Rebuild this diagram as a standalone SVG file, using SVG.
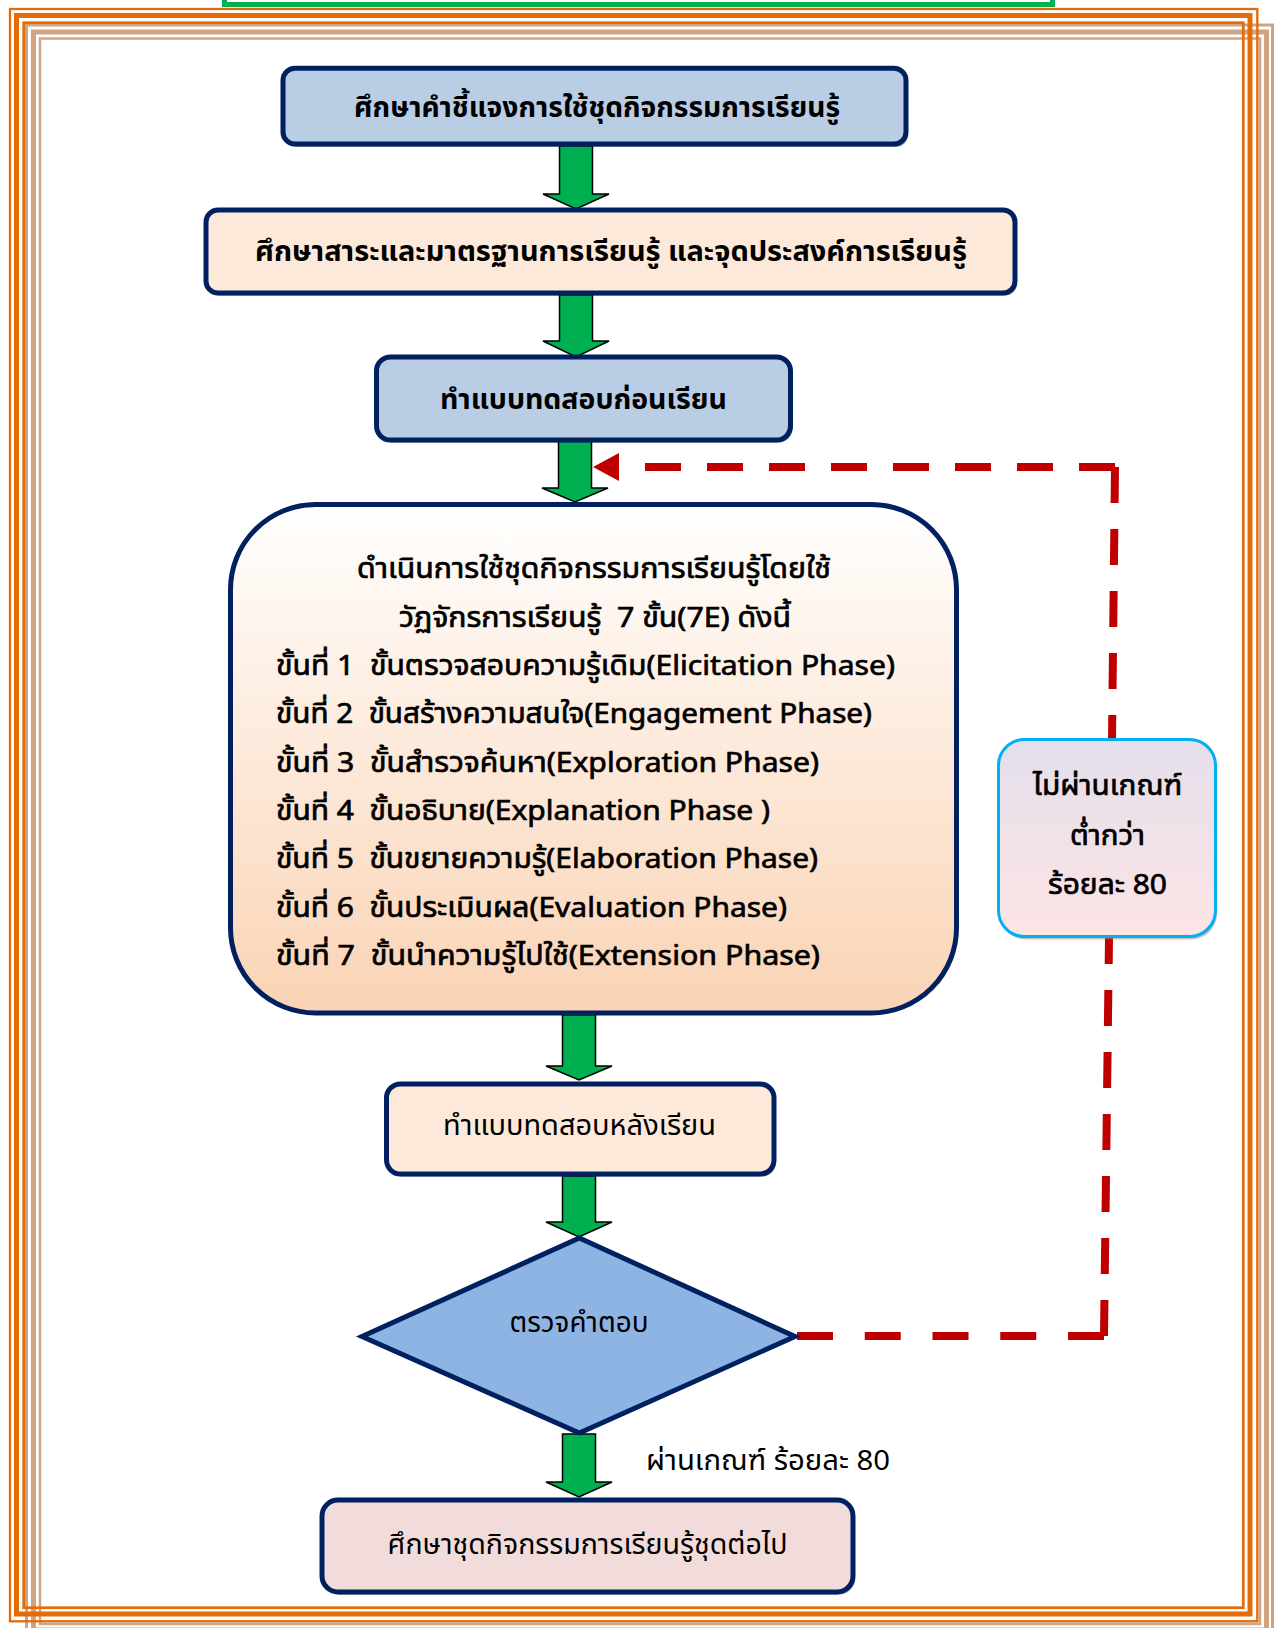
<svg xmlns="http://www.w3.org/2000/svg" width="1280" height="1628" viewBox="0 0 1280 1628">
<defs>
<style>
.t{font-family:"Noto Sans Thai","Noto Sans Thai UI","Leelawadee UI",Tahoma,"DejaVu Sans",sans-serif;font-size:28px;fill:#000;white-space:pre}
.b{font-weight:bold}
.m{stroke:#000;stroke-width:0.7}
.box{stroke:#002060;stroke-width:5}
.shadow{fill:#1a2a50;opacity:0.55}
.garrow{fill:#00B050;stroke:#000;stroke-width:1.5;stroke-linejoin:miter}
.or{fill:none;stroke:#E36C09}
.tan{fill:none;stroke:#D2A382}
.red{fill:none;stroke:#C00000;stroke-width:8;stroke-dasharray:36 26}
</style>
<linearGradient id="g4" x1="0" y1="0" x2="0" y2="1">
<stop offset="0" stop-color="#FFFFFF"/>
<stop offset="1" stop-color="#FAD3B4"/>
</linearGradient>
<linearGradient id="gs" x1="0" y1="0" x2="0" y2="1">
<stop offset="0" stop-color="#E4DFEC"/>
<stop offset="1" stop-color="#FDE4E4"/>
</linearGradient>
<marker id="ra" viewBox="0 0 26 28" refX="0" refY="14" markerWidth="26" markerHeight="28" markerUnits="userSpaceOnUse" orient="auto">
<path d="M0,0 L26,14 L0,28 z" fill="#C00000"/>
</marker>
</defs>
<rect width="1280" height="1628" fill="#FFFFFF"/>
<g id="frame">
<rect x="224.5" y="-20" width="828" height="24.5" fill="#FFFFFF" stroke="#00B050" stroke-width="5"/>
<rect class="tan" x="26.5" y="25" width="1246" height="1612" stroke-width="3"/>
<rect class="tan" x="33.5" y="32" width="1233" height="1598" stroke-width="5"/>
<rect class="tan" x="40" y="38.5" width="1220" height="1585.5" stroke-width="2.5"/>
<rect class="or" x="10" y="9" width="1247.3" height="1612.3" stroke-width="2.3"/>
<rect class="or" x="16.5" y="15.5" width="1233.5" height="1598.5" stroke-width="5"/>
<rect class="or" x="23.7" y="22.7" width="1219.6" height="1585" stroke-width="2.7"/>
</g>
<g id="connectors">
<path class="garrow" d="M559.5,146 H592.5 V194 H609 L576,209 L543,194 H559.5 Z"/>
<path class="garrow" d="M559.5,295 H592.5 V341 H609 L576,357 L543,341 H559.5 Z"/>
<path class="garrow" d="M558.5,441 H591.5 V488 H608 L575,502 L542,488 H558.5 Z"/>
<path class="garrow" d="M562.5,1015 H595.5 V1066 H612 L579,1080 L546,1066 H562.5 Z"/>
<path class="garrow" d="M562.5,1176 H595.5 V1222 H612 L579,1237 L546,1222 H562.5 Z"/>
<path class="garrow" d="M562.5,1434 H595.5 V1482 H612 L579,1497 L546,1482 H562.5 Z"/>
<path class="red" d="M1104,1336 L797,1336" style="stroke-dasharray:36 31.75"/>
<path class="red" d="M1104,1336 L1109,938"/>
<path class="red" d="M1115,467 L1112,741"/>
<path class="red" d="M1115,467 L619,467" marker-end="url(#ra)"/>
<text class="t" x="646" y="1470" textLength="244" lengthAdjust="spacingAndGlyphs">ผ่านเกณฑ์ ร้อยละ 80</text>
</g>
<g id="n1">
<rect class="shadow" x="285" y="71" width="623" height="75.7" rx="12"/>
<rect class="box" x="283" y="68.3" width="623" height="75.7" rx="12" fill="#B9CDE5"/>
<text class="t b" x="597" y="117" text-anchor="middle" textLength="486" lengthAdjust="spacingAndGlyphs">ศึกษาคำชี้แจงการใช้ชุดกิจกรรมการเรียนรู้</text>
</g>
<g id="n2">
<rect class="shadow" x="208" y="212.5" width="809" height="83" rx="12"/>
<rect class="box" x="206" y="210" width="809" height="83" rx="12" fill="#FDE9D9"/>
<text class="t b" x="611" y="261" text-anchor="middle" textLength="712" lengthAdjust="spacingAndGlyphs">ศึกษาสาระและมาตรฐานการเรียนรู้ และจุดประสงค์การเรียนรู้</text>
</g>
<g id="n3">
<rect class="shadow" x="378.5" y="359.5" width="414" height="83" rx="14"/>
<rect class="box" x="376.5" y="357" width="414" height="83" rx="14" fill="#B9CDE5"/>
<text class="t b" x="583.5" y="409" text-anchor="middle" textLength="287" lengthAdjust="spacingAndGlyphs">ทำแบบทดสอบก่อนเรียน</text>
</g>
<g id="n4">
<rect class="box" x="230.5" y="504.5" width="726" height="508.5" rx="85" fill="url(#g4)"/>
<text class="t m" x="594" y="578" text-anchor="middle" textLength="474" lengthAdjust="spacingAndGlyphs">ดำเนินการใช้ชุดกิจกรรมการเรียนรู้โดยใช้</text>
<text class="t m" x="595" y="627" text-anchor="middle" textLength="392" lengthAdjust="spacingAndGlyphs">วัฏจักรการเรียนรู้  7 ขั้น(7E) ดังนี้</text>
<text class="t m" x="276" y="675" textLength="619" lengthAdjust="spacingAndGlyphs">ขั้นที่ 1  ขั้นตรวจสอบความรู้เดิม(Elicitation Phase)</text>
<text class="t m" x="276" y="723.3" textLength="596" lengthAdjust="spacingAndGlyphs">ขั้นที่ 2  ขั้นสร้างความสนใจ(Engagement Phase)</text>
<text class="t m" x="276" y="771.6" textLength="543" lengthAdjust="spacingAndGlyphs">ขั้นที่ 3  ขั้นสำรวจค้นหา(Exploration Phase)</text>
<text class="t m" x="276" y="820" textLength="494" lengthAdjust="spacingAndGlyphs">ขั้นที่ 4  ขั้นอธิบาย(Explanation Phase )</text>
<text class="t m" x="276" y="868.3" textLength="542" lengthAdjust="spacingAndGlyphs">ขั้นที่ 5  ขั้นขยายความรู้(Elaboration Phase)</text>
<text class="t m" x="276" y="916.6" textLength="511" lengthAdjust="spacingAndGlyphs">ขั้นที่ 6  ขั้นประเมินผล(Evaluation Phase)</text>
<text class="t m" x="276" y="965" textLength="544" lengthAdjust="spacingAndGlyphs">ขั้นที่ 7  ขั้นนำความรู้ไปใช้(Extension Phase)</text>
</g>
<g id="n5">
<rect class="shadow" x="388.5" y="1086.5" width="387.5" height="90" rx="14"/>
<rect class="box" x="386.5" y="1084" width="387.5" height="90" rx="14" fill="#FDE9D9"/>
<text class="t" x="579.5" y="1135" text-anchor="middle" textLength="273" lengthAdjust="spacingAndGlyphs">ทำแบบทดสอบหลังเรียน</text>
</g>
<g id="n6">
<polygon class="box" points="362,1336.5 579.3,1238 795,1336.5 579.3,1433" fill="#8DB4E2" stroke-linejoin="miter"/>
<text class="t" x="579" y="1332" text-anchor="middle" textLength="139" lengthAdjust="spacingAndGlyphs">ตรวจคำตอบ</text>
</g>
<g id="n7">
<rect class="shadow" x="324" y="1502.5" width="531" height="92" rx="16"/>
<rect class="box" x="322" y="1500" width="531" height="92" rx="16" fill="#F2DCDB"/>
<text class="t" x="587.5" y="1554" text-anchor="middle" textLength="400" lengthAdjust="spacingAndGlyphs">ศึกษาชุดกิจกรรมการเรียนรู้ชุดต่อไป</text>
</g>
<g id="n8">
<rect x="1000" y="742.5" width="217" height="197" rx="26" fill="#8a8a8a" opacity="0.5"/>
<rect x="998.5" y="739.5" width="217" height="197" rx="26" fill="url(#gs)" stroke="#00B0F0" stroke-width="3"/>
<text class="t m" x="1107.5" y="795" text-anchor="middle" textLength="149" lengthAdjust="spacingAndGlyphs">ไม่ผ่านเกณฑ์</text>
<text class="t m" x="1107.5" y="845" text-anchor="middle" textLength="75" lengthAdjust="spacingAndGlyphs">ต่ำกว่า</text>
<text class="t m" x="1107.5" y="894" text-anchor="middle" textLength="119" lengthAdjust="spacingAndGlyphs">ร้อยละ 80</text>
</g>
</svg>
